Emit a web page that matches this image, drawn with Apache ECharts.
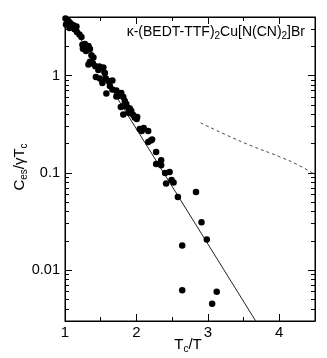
<!DOCTYPE html>
<html>
<head>
<meta charset="utf-8">
<script src="https://cdn.jsdelivr.net/npm/echarts@6/dist/echarts.min.js"></script>
<style>
  html, body { margin: 0; padding: 0; background: #fff; }
  #chart { width: 327px; height: 358px; }
</style>
</head>
<body>
<div id="chart"></div>
<script>
// measured points: Tc/T and Ces/(gamma Tc)
const tcOverT = [
  1.007, 1.014, 1.048, 1.077, 1.063, 1.119, 1.133, 1.160, 1.167, 1.202, 1.230,
  1.244, 1.279, 1.328, 1.251, 1.293, 1.349, 1.370, 1.398, 1.349, 1.391, 1.328, 1.425, 1.481, 1.509, 1.467,
  1.537, 1.558, 1.432, 1.488, 1.572, 1.607, 1.663, 1.523, 1.628, 1.579, 1.663, 1.719, 1.788, 1.746, 1.719,
  1.816, 1.837, 1.781, 1.858, 1.886, 1.816, 1.907, 1.928, 1.816, 1.893, 1.955, 1.976, 2.004, 2.011,
  2.046, 2.102, 2.165, 2.074, 2.165, 2.200, 2.220, 2.276, 2.346, 2.276, 2.346, 2.402, 2.465, 2.416,
  2.492, 2.520, 2.580, 2.834, 2.911, 2.985, 2.641, 2.641, 3.124, 3.060
]
const cesOverGammaTc = [
  3.85, 3.34, 3.63, 3.46, 3.08, 3.30, 3.00, 3.19, 2.80, 2.64, 2.49,
  2.08, 2.11, 2.01, 1.89, 1.79, 1.87, 1.62, 1.53, 1.39, 1.33, 1.30, 1.25, 1.24, 1.19, 1.14,
  1.21, 1.06, 0.966, 0.932, 0.932, 0.878, 0.889, 0.837, 0.780, 0.653, 0.718, 0.701, 0.661, 0.616, 0.608,
  0.601, 0.547, 0.475, 0.509, 0.464, 0.486, 0.458, 0.432, 0.397, 0.412, 0.393, 0.370, 0.357, 0.375,
  0.282, 0.289, 0.269, 0.269, 0.207, 0.215, 0.220, 0.164, 0.135, 0.123, 0.120, 0.0995, 0.102, 0.0776,
  0.0843, 0.0795, 0.0564, 0.0635, 0.0311, 0.0206, 0.0179, 0.00621, 0.00598, 0.00451
]

// exponential fit (straight on log scale)
const fitX = [1, 3.67]
const fitY = [4.3, 0.003]

// dashed curve
const dashX = [2.897, 3.259, 3.622, 3.999, 4.278, 4.5]
const dashY = [0.327, 0.245, 0.188, 0.147, 0.119, 0.096]

const xMajorTicks = [1, 2, 3, 4]
const xMinorTicks = [1.5, 2.5, 3.5]
const yMajorTicks = [0.01, 0.1, 1]
const yMinorTicks = [0.004, 0.005, 0.006, 0.007, 0.008, 0.009,
  0.02, 0.03, 0.04, 0.05, 0.06, 0.07, 0.08, 0.09,
  0.2, 0.3, 0.4, 0.5, 0.6, 0.7, 0.8, 0.9, 2, 3]

const xMin = 1, xMax = 4.5
const yMin = 0.003, yMax = 4

const font = "'Liberation Sans', Arial, sans-serif"
const lg = (v) => Math.log10(v)

const richText = (size) => ({
  a: { fontSize: size, fontFamily: font, fontWeight: "normal", fill: "#000", color: "#000", lineHeight: 18 },
  s: { fontSize: 10, fontFamily: font, fontWeight: "normal", fill: "#000", color: "#000", lineHeight: 10, verticalAlign: "bottom" }
})

const plotRect = { left: 65, right: 12, top: 17, bottom: 37 }

// grid 0 carries the data (hidden axes), grid 1 draws the frame ticks and labels
const hiddenX = { type: "value", gridIndex: 0, min: xMin, max: xMax, show: false }
const hiddenY = { type: "value", gridIndex: 0, min: lg(yMin), max: lg(yMax), show: false }

const xAxisFor = (pos, ticks, len, main) => ({
  type: "value",
  gridIndex: 1,
  position: pos,
  min: xMin,
  max: xMax,
  axisLine: { show: main, onZero: false, lineStyle: { color: "#000", width: 1 } },
  splitLine: { show: false },
  axisTick: { show: true, inside: true, length: len, customValues: ticks, lineStyle: { color: "#000" } },
  axisLabel: main && pos === "bottom"
    ? { show: true, customValues: xMajorTicks, color: "#000", fontSize: 15, fontFamily: font, margin: 4 }
    : { show: false }
})

const yAxisFor = (pos, ticks, len, main) => ({
  type: "value",
  gridIndex: 1,
  position: pos,
  min: lg(yMin),
  max: lg(yMax),
  axisLine: { show: main, onZero: false, lineStyle: { color: "#000", width: 1 } },
  splitLine: { show: false },
  axisTick: { show: true, inside: true, length: len, customValues: ticks.map(lg), lineStyle: { color: "#000" } },
  axisLabel: main && pos === "left"
    ? {
        show: true,
        customValues: yMajorTicks.map(lg),
        color: "#000",
        fontSize: 14.5,
        fontFamily: font,
        margin: 5,
        formatter: (v) => String(Number(Math.pow(10, v).toPrecision(3)))
      }
    : { show: false }
})

const option = {
  animation: false,
  grid: [
    Object.assign({ show: true, borderColor: "#000", borderWidth: 1, backgroundColor: "transparent", outerBoundsMode: "none" }, plotRect),
    Object.assign({ show: false, outerBoundsMode: "none" }, plotRect)
  ],
  title: {
    text: "{a|κ-(BEDT-TTF)}{s|2}{a|Cu[N(CN)}{s|2}{a|]Br}",
    right: 22,
    top: 23,
    padding: 0,
    textStyle: { fontWeight: "normal", rich: richText(14) }
  },
  // axis titles
  graphic: [
    {
      type: "text",
      x: 188,
      y: 345,
      style: { text: "{a|T}{s|c}{a|/T}", rich: richText(15), align: "center", verticalAlign: "middle" }
    },
    {
      type: "text",
      x: 20,
      y: 167,
      rotation: Math.PI / 2,
      style: { text: "{a|C}{s|es}{a|/γT}{s|c}", rich: richText(15), align: "center", verticalAlign: "middle" }
    }
  ],
  xAxis: [
    hiddenX,
    xAxisFor("bottom", xMajorTicks, 7, true),
    xAxisFor("bottom", xMinorTicks, 4, false),
    xAxisFor("top", xMajorTicks, 7, true),
    xAxisFor("top", xMinorTicks, 4, false)
  ],
  yAxis: [
    hiddenY,
    yAxisFor("left", yMajorTicks, 7, true),
    yAxisFor("left", yMinorTicks, 4, false),
    yAxisFor("right", yMajorTicks, 7, true),
    yAxisFor("right", yMinorTicks, 4, false)
  ],
  series: [
    {
      name: "fit",
      type: "line",
      xAxisIndex: 0,
      yAxisIndex: 0,
      data: fitX.map((x, i) => [x, lg(fitY[i])]),
      showSymbol: false,
      lineStyle: { color: "#222", width: 1 },
      z: 1
    },
    {
      name: "dashed",
      type: "line",
      xAxisIndex: 0,
      yAxisIndex: 0,
      smooth: true,
      data: dashX.map((x, i) => [x, lg(dashY[i])]),
      showSymbol: false,
      lineStyle: { color: "#444", width: 1, type: [3, 3] },
      z: 1
    },
    {
      name: "data",
      type: "scatter",
      xAxisIndex: 0,
      yAxisIndex: 0,
      data: tcOverT.map((x, i) => [x, lg(cesOverGammaTc[i])]),
      symbol: "circle",
      symbolSize: 6.5,
      itemStyle: { color: "#000", opacity: 1 },
      z: 3
    }
  ]
}

const chart = echarts.init(document.getElementById("chart"))
chart.setOption(option)
</script>
</body>
</html>
